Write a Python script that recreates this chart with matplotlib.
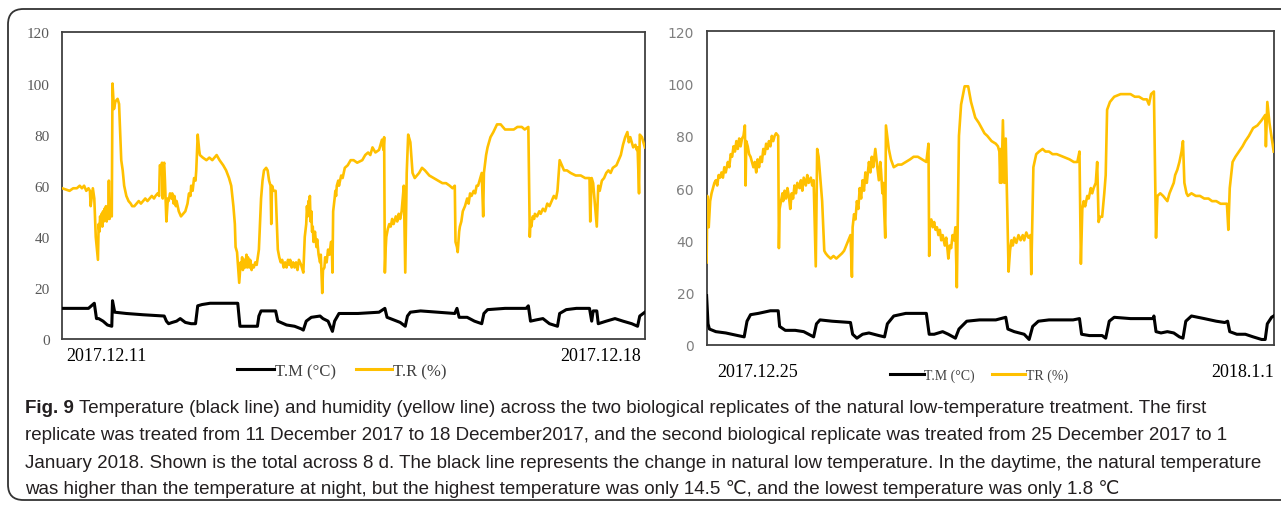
import matplotlib
matplotlib.use("Agg")
import matplotlib.pyplot as plt
import matplotlib.patches as mpatches
import matplotlib.transforms as mtransforms
from matplotlib.lines import Line2D

# ── Data: (day since start of replicate, reading) ────────────────────────────

# Replicate 1 (2017.12.11 - 2017.12.18), relative humidity %
r1_rh_pts = [
    (0.00, 59), (0.05, 58.5), (0.10, 58), (0.15, 59), (0.20, 59), (0.24, 60), (0.27, 59), (0.30, 60),
    (0.33, 58), (0.36, 59), (0.38, 58), (0.39, 52), (0.42, 59), (0.44, 55), (0.46, 40), (0.49, 31),
    (0.50, 45), (0.51, 42), (0.52, 48), (0.53, 45), (0.54, 49), (0.55, 44), (0.56, 50), (0.57, 46),
    (0.58, 51), (0.59, 47), (0.60, 52), (0.61, 46), (0.62, 50), (0.63, 47), (0.64, 62), (0.65, 47),
    (0.66, 50), (0.68, 48), (0.69, 100), (0.71, 90), (0.73, 93), (0.76, 94), (0.78, 92), (0.81, 70),
    (0.83, 66), (0.85, 60), (0.88, 56), (0.91, 54), (0.94, 53), (0.96, 52), (0.99, 52), (1.02, 53),
    (1.05, 54), (1.08, 53), (1.11, 54), (1.14, 55), (1.17, 54), (1.20, 55), (1.23, 56), (1.26, 55),
    (1.28, 56), (1.31, 57), (1.33, 56), (1.34, 68), (1.36, 67), (1.37, 69), (1.38, 55), (1.39, 68),
    (1.40, 69), (1.41, 62), (1.43, 46), (1.45, 55), (1.46, 54), (1.48, 57), (1.50, 55), (1.51, 57),
    (1.53, 53), (1.54, 56), (1.56, 52), (1.57, 54), (1.60, 50), (1.63, 48), (1.66, 49), (1.69, 50),
    (1.72, 53), (1.74, 57), (1.76, 56), (1.77, 60), (1.79, 58), (1.81, 63), (1.83, 62), (1.84, 66),
    (1.86, 80), (1.88, 74), (1.89, 72), (1.93, 71), (1.98, 70), (2.02, 71), (2.06, 70), (2.09, 71),
    (2.12, 72), (2.16, 70), (2.21, 68), (2.25, 66), (2.29, 63), (2.32, 60), (2.35, 52), (2.37, 45),
    (2.38, 36), (2.40, 34), (2.41, 30), (2.43, 22), (2.45, 30), (2.46, 28), (2.47, 32), (2.48, 27),
    (2.50, 31), (2.51, 28), (2.53, 33), (2.54, 28), (2.55, 32), (2.57, 28), (2.58, 31), (2.60, 27),
    (2.61, 29), (2.63, 28), (2.65, 30), (2.67, 29), (2.70, 35), (2.73, 55), (2.75, 62), (2.77, 66),
    (2.80, 67), (2.82, 66), (2.84, 62), (2.86, 60), (2.87, 45), (2.88, 60), (2.90, 58), (2.93, 58),
    (2.96, 35), (2.98, 32), (3.00, 30), (3.02, 31), (3.04, 28), (3.06, 30), (3.08, 28), (3.10, 31),
    (3.12, 29), (3.13, 31), (3.15, 28), (3.17, 30), (3.19, 28), (3.21, 30), (3.23, 27), (3.25, 31),
    (3.28, 29), (3.31, 26), (3.33, 40), (3.35, 45), (3.36, 52), (3.37, 48), (3.38, 54), (3.39, 50),
    (3.40, 56), (3.41, 46), (3.42, 50), (3.43, 42), (3.44, 44), (3.45, 38), (3.47, 42), (3.49, 36),
    (3.50, 39), (3.52, 33), (3.54, 30), (3.55, 33), (3.57, 18), (3.58, 27), (3.60, 28), (3.61, 32),
    (3.63, 30), (3.65, 35), (3.67, 33), (3.69, 38), (3.70, 38), (3.71, 26), (3.72, 50), (3.74, 55),
    (3.75, 58), (3.76, 56), (3.77, 60), (3.79, 62), (3.80, 60), (3.83, 64), (3.85, 63), (3.88, 67),
    (3.92, 68), (3.96, 70), (4.00, 70), (4.05, 69), (4.12, 70), (4.16, 72), (4.20, 73), (4.23, 72),
    (4.26, 75), (4.30, 73), (4.35, 74), (4.37, 76), (4.39, 78), (4.41, 74), (4.42, 79), (4.43, 26),
    (4.44, 35), (4.45, 40), (4.47, 43), (4.49, 45), (4.51, 44), (4.53, 47), (4.55, 45), (4.58, 48),
    (4.60, 46), (4.62, 49), (4.64, 47), (4.66, 50), (4.69, 60), (4.71, 26), (4.73, 65), (4.75, 80),
    (4.78, 77), (4.81, 65), (4.84, 63), (4.90, 65), (4.94, 67), (4.98, 66), (5.04, 64), (5.10, 63),
    (5.16, 62), (5.22, 61), (5.27, 61), (5.32, 60), (5.36, 59), (5.39, 60), (5.40, 38), (5.42, 36),
    (5.43, 34), (5.45, 42), (5.46, 44), (5.48, 46), (5.50, 50), (5.53, 52), (5.56, 55), (5.58, 53),
    (5.60, 57), (5.62, 56), (5.65, 58), (5.67, 57), (5.69, 60), (5.71, 60), (5.73, 62), (5.76, 65),
    (5.78, 48), (5.79, 65), (5.82, 72), (5.84, 75), (5.88, 79), (5.92, 81), (5.97, 84), (6.02, 84),
    (6.05, 83), (6.08, 82), (6.14, 82), (6.20, 82), (6.25, 83), (6.31, 83), (6.35, 82), (6.40, 83),
    (6.42, 40), (6.43, 46), (6.44, 44), (6.46, 48), (6.48, 47), (6.49, 49), (6.52, 48), (6.55, 50),
    (6.57, 49), (6.60, 51), (6.63, 50), (6.66, 53), (6.69, 52), (6.72, 54), (6.75, 56), (6.78, 55),
    (6.80, 58), (6.83, 70), (6.86, 68), (6.89, 66), (6.93, 66), (6.98, 65), (7.05, 64), (7.12, 64),
    (7.18, 63), (7.24, 63), (7.25, 46), (7.27, 63), (7.29, 61), (7.34, 44), (7.36, 60), (7.38, 58),
    (7.41, 62), (7.44, 63), (7.47, 65), (7.50, 66), (7.53, 65), (7.56, 67), (7.61, 68), (7.64, 70),
    (7.67, 72), (7.70, 76), (7.73, 79), (7.76, 81), (7.78, 77), (7.80, 79), (7.82, 77), (7.84, 75),
    (7.87, 76), (7.89, 74), (7.90, 75), (7.92, 57), (7.93, 80), (7.96, 79), (8.00, 75),
]

# Replicate 1, temperature °C
r1_t_pts = [
    (0.00, 12), (0.36, 12), (0.44, 14), (0.47, 8), (0.50, 8), (0.56, 7), (0.62, 5.5), (0.68, 5),
    (0.69, 15), (0.72, 10.5), (0.88, 10), (1.11, 9.5), (1.40, 9), (1.43, 7), (1.46, 6), (1.51, 6.5),
    (1.57, 7), (1.62, 8), (1.69, 6.5), (1.77, 6), (1.83, 6), (1.86, 13), (1.92, 13.5), (2.03, 14),
    (2.41, 14), (2.44, 5), (2.61, 5), (2.68, 5), (2.70, 9), (2.73, 11), (2.93, 11), (2.96, 7),
    (3.08, 5.5), (3.19, 5), (3.28, 4), (3.31, 3.5), (3.35, 7), (3.42, 8.5), (3.54, 9), (3.58, 8),
    (3.65, 7), (3.71, 3), (3.74, 7), (3.80, 10), (4.06, 10), (4.35, 10.5), (4.43, 12), (4.46, 8.5),
    (4.64, 6.5), (4.71, 5), (4.74, 9), (4.78, 10.5), (4.92, 11), (5.39, 10), (5.42, 12), (5.45, 8.5),
    (5.56, 8.5), (5.66, 7), (5.76, 6), (5.79, 10), (5.84, 11.5), (6.08, 12), (6.37, 12), (6.40, 13),
    (6.43, 7), (6.51, 7.5), (6.60, 8), (6.69, 6), (6.80, 5), (6.83, 10), (6.92, 11.5), (7.06, 12),
    (7.24, 12), (7.27, 7), (7.29, 11), (7.34, 11), (7.36, 6), (7.47, 7), (7.59, 8), (7.70, 7),
    (7.82, 6), (7.90, 5), (7.93, 9), (8.00, 10.5),
]

# Replicate 2 (2017.12.25 - 2018.1.1), relative humidity %
r2_rh_pts = [
    (0.00, 31.5), (0.01, 57), (0.02, 48), (0.03, 45), (0.05, 55), (0.07, 58), (0.09, 60), (0.11, 62),
    (0.13, 63), (0.15, 61), (0.17, 65), (0.19, 64), (0.21, 66), (0.23, 64), (0.25, 68), (0.27, 66),
    (0.30, 70), (0.32, 68), (0.34, 73), (0.36, 72), (0.38, 76), (0.40, 74), (0.42, 78), (0.44, 75),
    (0.46, 79), (0.48, 76), (0.50, 79), (0.52, 80), (0.54, 84), (0.55, 61), (0.56, 78), (0.58, 76),
    (0.60, 73), (0.62, 72), (0.64, 70), (0.66, 68), (0.68, 70), (0.70, 66), (0.72, 71), (0.74, 68),
    (0.76, 72), (0.78, 70), (0.80, 75), (0.82, 73), (0.84, 77), (0.86, 75), (0.88, 78), (0.90, 76),
    (0.92, 80), (0.94, 78), (0.96, 80), (0.98, 81), (1.01, 80), (1.02, 37), (1.03, 52), (1.05, 55),
    (1.07, 58), (1.08, 55), (1.10, 59), (1.12, 56), (1.14, 60), (1.16, 57), (1.18, 52), (1.20, 58),
    (1.22, 56), (1.24, 61), (1.26, 58), (1.28, 62), (1.31, 60), (1.33, 63), (1.35, 59), (1.37, 64),
    (1.40, 61), (1.42, 65), (1.44, 62), (1.47, 64), (1.49, 61), (1.51, 63), (1.54, 30), (1.56, 75),
    (1.58, 72), (1.61, 62), (1.63, 55), (1.66, 36), (1.68, 35), (1.71, 34), (1.75, 33), (1.79, 34),
    (1.83, 33), (1.87, 34), (1.91, 35), (1.94, 36), (1.97, 38), (2.00, 40), (2.03, 42), (2.05, 26),
    (2.06, 45), (2.08, 50), (2.10, 48), (2.12, 55), (2.14, 52), (2.16, 60), (2.18, 56), (2.20, 63),
    (2.22, 59), (2.24, 66), (2.26, 62), (2.29, 70), (2.31, 66), (2.33, 72), (2.35, 68), (2.38, 75),
    (2.40, 70), (2.43, 63), (2.45, 70), (2.46, 67), (2.48, 58), (2.49, 62), (2.52, 41), (2.53, 84),
    (2.57, 75), (2.60, 71), (2.64, 68), (2.70, 69), (2.75, 69), (2.81, 70), (2.87, 71), (2.92, 72),
    (2.98, 72), (3.04, 71), (3.10, 70), (3.13, 77), (3.14, 34), (3.15, 47), (3.17, 48), (3.19, 45),
    (3.21, 47), (3.23, 44), (3.25, 45), (3.27, 42), (3.29, 44), (3.31, 40), (3.33, 42), (3.36, 38),
    (3.38, 41), (3.40, 36), (3.41, 33), (3.43, 38), (3.45, 37), (3.47, 42), (3.49, 40), (3.51, 45),
    (3.53, 22), (3.56, 80), (3.59, 92), (3.64, 99), (3.69, 99), (3.73, 93), (3.79, 87), (3.84, 85),
    (3.88, 83), (3.92, 81), (3.96, 80), (4.02, 78), (4.08, 77), (4.11, 76), (4.13, 74), (4.14, 62),
    (4.15, 75), (4.16, 62), (4.18, 86), (4.20, 62), (4.22, 79), (4.26, 28), (4.28, 36), (4.30, 40),
    (4.32, 38), (4.34, 41), (4.37, 39), (4.40, 42), (4.43, 40), (4.46, 42), (4.48, 40), (4.51, 43),
    (4.54, 41), (4.57, 42), (4.58, 27), (4.61, 68), (4.65, 73), (4.69, 74), (4.74, 75), (4.78, 74),
    (4.83, 74), (4.88, 73), (4.94, 73), (5.03, 72), (5.12, 71), (5.18, 70), (5.23, 70), (5.26, 74),
    (5.28, 31), (5.30, 52), (5.32, 55), (5.34, 53), (5.37, 57), (5.39, 56), (5.42, 60), (5.44, 58),
    (5.46, 60), (5.49, 62), (5.51, 70), (5.53, 47), (5.55, 49), (5.58, 49), (5.60, 55), (5.61, 58),
    (5.63, 65), (5.65, 90), (5.69, 93), (5.75, 95), (5.84, 96), (5.92, 96), (5.98, 96), (6.04, 95),
    (6.10, 95), (6.16, 94), (6.21, 94), (6.24, 92), (6.27, 96), (6.31, 97), (6.34, 41), (6.36, 57),
    (6.40, 58), (6.44, 57), (6.47, 56), (6.50, 55), (6.53, 58), (6.56, 60), (6.59, 62), (6.61, 65),
    (6.64, 67), (6.67, 70), (6.70, 74), (6.72, 78), (6.74, 62), (6.77, 58), (6.79, 57), (6.84, 58),
    (6.90, 57), (6.96, 57), (7.02, 56), (7.08, 56), (7.13, 55), (7.19, 55), (7.25, 54), (7.30, 54),
    (7.34, 54), (7.36, 44), (7.38, 60), (7.42, 70), (7.46, 72), (7.51, 74), (7.56, 76), (7.60, 78),
    (7.65, 80), (7.71, 83), (7.77, 84), (7.83, 86), (7.88, 88), (7.89, 76), (7.91, 93), (7.94, 85),
    (8.00, 74),
]

# Replicate 2, temperature °C
r2_t_pts = [
    (0.00, 18.8), (0.02, 8), (0.04, 6), (0.13, 5), (0.27, 4.5), (0.44, 3.5), (0.53, 3), (0.57, 9),
    (0.62, 11.5), (0.73, 12), (0.90, 13), (1.01, 13), (1.03, 7), (1.11, 5.5), (1.25, 5.5), (1.37, 5),
    (1.51, 3), (1.55, 8), (1.60, 9.5), (1.77, 9), (2.03, 8.5), (2.06, 4), (2.12, 2.5), (2.20, 4),
    (2.29, 4.5), (2.43, 3.5), (2.51, 3), (2.55, 8), (2.64, 11), (2.81, 12), (2.98, 12), (3.10, 12),
    (3.14, 4), (3.21, 4), (3.33, 5), (3.41, 4), (3.51, 2.5), (3.56, 6), (3.67, 9), (3.85, 9.5),
    (4.08, 9.5), (4.22, 10.5), (4.25, 6), (4.34, 5), (4.48, 4), (4.55, 2), (4.60, 7), (4.68, 9),
    (4.83, 9.5), (5.17, 9.5), (5.26, 10), (5.29, 4), (5.40, 3.5), (5.58, 3.5), (5.63, 2.5), (5.68, 9),
    (5.75, 10.5), (5.98, 10), (6.30, 10), (6.31, 11), (6.34, 5), (6.41, 4.5), (6.50, 5), (6.59, 4.5),
    (6.67, 3), (6.72, 2.5), (6.76, 9), (6.84, 11), (7.02, 10), (7.19, 9), (7.31, 8.5), (7.35, 9),
    (7.38, 5), (7.48, 4), (7.60, 4), (7.71, 3), (7.83, 2), (7.88, 2), (7.91, 8), (7.97, 10.5),
    (8.00, 11),
]

panel_ticks = [["2017.12.11", "2017.12.18"], ["2017.12.25", "2018.1.1"]]
legend_labels = [["T.M (°C)", "T.R (%)"], ["T.M (°C)", "TR (%)"]]
yticks = [0, 20, 40, 60, 80, 100, 120]

caption_lines = [
    "Temperature (black line) and humidity (yellow line) across the two biological replicates of the natural low-temperature treatment. The first",
    "replicate was treated from 11 December 2017 to 18 December2017, and the second biological replicate was treated from 25 December 2017 to 1",
    "January 2018. Shown is the total across 8 d. The black line represents the change in natural low temperature. In the daytime, the natural temperature",
    "was higher than the temperature at night, but the highest temperature was only 14.5 \u2103, and the lowest temperature was only 1.8 \u2103",
]

YELLOW = "#FFC000"
BLACK = "#000000"
SERIF = "Liberation Serif"
CAPTION_FONT = ["Liberation Sans", "DejaVu Sans"]

fig = plt.figure(figsize=(12.81, 5.06), dpi=100)
fig.patch.set_facecolor("white")

# outer rounded frame (runs off the right edge like the page crop)
frame = mpatches.FancyBboxPatch(
    (8 / 1281, 5 / 506), 1.2, 491 / 506,
    boxstyle="round,pad=0,rounding_size=0.012",
    transform=fig.transFigure, facecolor="none",
    edgecolor="#333333", linewidth=1.3, mutation_aspect=1281 / 506,
)
fig.patches.append(frame)

ax1 = fig.add_axes([0.0486, 0.328, 0.4548, 0.606])
ax2 = fig.add_axes([0.5516, 0.3168, 0.4427, 0.619])


def style_panel(ax, labels, tick_font, tick_color, tick_size, label_pad, offsets):
    ax.set_xlim(0, 8)
    ax.set_ylim(0, 120)
    ax.set_yticks(yticks)
    ax.set_yticklabels([str(v) for v in yticks], fontfamily=tick_font,
                       color=tick_color, fontsize=tick_size)
    ax.tick_params(axis="y", length=0, pad=9)
    ax.set_xticks([0, 8])
    ax.set_xticklabels(labels, fontfamily=SERIF, fontsize=13, color="black")
    ax.tick_params(axis="x", length=0, pad=label_pad)
    tl = ax.get_xticklabels()
    tl[0].set_ha("left")
    tl[1].set_ha("right")
    for lab, dx in zip(tl, offsets):
        lab.set_transform(lab.get_transform() +
                          mtransforms.ScaledTranslation(dx / 100, 0, fig.dpi_scale_trans))
    for sp in ax.spines.values():
        sp.set_edgecolor("#404040")
        sp.set_linewidth(1.3)


def plot_series(ax, rh_pts, t_pts):
    rh_day, rh = zip(*rh_pts)
    t_day, t = zip(*t_pts)
    ax.plot(rh_day, rh, color=YELLOW, linewidth=1.9, zorder=3)
    ax.plot(t_day, t, color=BLACK, linewidth=2.2, zorder=4)


plot_series(ax1, r1_rh_pts, r1_t_pts)
style_panel(ax1, panel_ticks[0], SERIF, "#595959", 11, 6, [4, -4])

plot_series(ax2, r2_rh_pts, r2_t_pts)
style_panel(ax2, panel_ticks[1], "DejaVu Sans", "#7F7F7F", 10, 13, [11, 0])

# Legends
h1 = [Line2D([], [], color=BLACK, linewidth=2.2), Line2D([], [], color=YELLOW, linewidth=2.2)]
ax1.legend(h1, legend_labels[0], loc="center", bbox_to_anchor=(342 / 1281, 1 - 372 / 506),
           bbox_transform=fig.transFigure, ncol=2, frameon=False, handlelength=2.2,
           handletextpad=0.05, columnspacing=1.2, borderpad=0,
           prop={"family": SERIF, "size": 12}, labelcolor="#404040")
ax2.legend(h1, legend_labels[1], loc="center", bbox_to_anchor=(979 / 1281, 1 - 376 / 506),
           bbox_transform=fig.transFigure, ncol=2, frameon=False, handlelength=2.4,
           handletextpad=0.05, columnspacing=1.2, borderpad=0,
           prop={"family": SERIF, "size": 10}, labelcolor="#404040")

# Caption
cap_y = [409, 436, 463, 489]
x0 = 25 / 1281
fs = 13.5
t = fig.text(x0, 1 - cap_y[0] / 506, "Fig. 9", fontfamily=CAPTION_FONT, fontweight="bold",
             fontsize=fs, color="#231F20", va="center", ha="left")
fig.canvas.draw()
bb = t.get_window_extent()
fig.text((bb.x1 + 5) / 1281, 1 - cap_y[0] / 506, caption_lines[0], fontfamily=CAPTION_FONT,
         fontsize=fs, color="#231F20", va="center", ha="left")
for line, y in zip(caption_lines[1:], cap_y[1:]):
    fig.text(x0, 1 - y / 506, line, fontfamily=CAPTION_FONT, fontsize=fs,
             color="#231F20", va="center", ha="left")

fig.savefig("out.png", dpi=100, facecolor="white")
